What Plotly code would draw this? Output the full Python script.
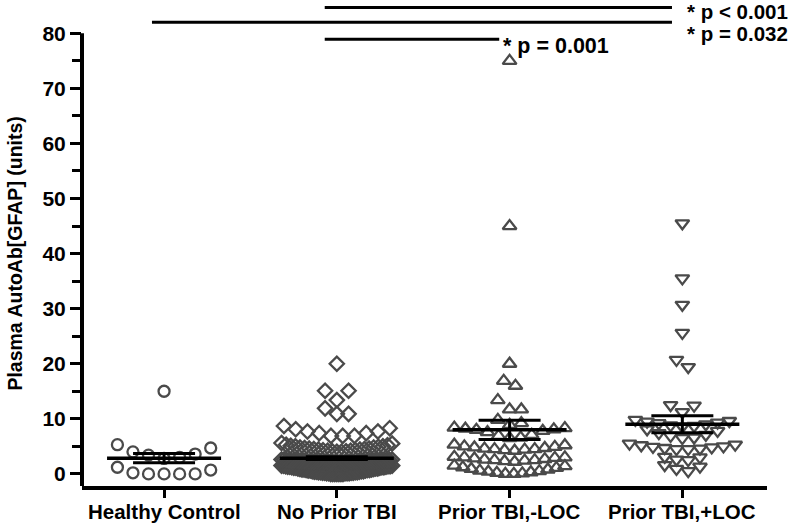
import plotly.graph_objects as go

# groups and values
categories = ["Healthy Control", "No Prior TBI", "Prior TBI,-LOC", "Prior TBI,+LOC"]

healthy = [15.0, 5.3, 4.7, 4.0, 3.6, 3.4, 3.0, 2.8, 1.2, 0.7, 0.2, 0.0, 0.0, 0.0, 0.0]

no_prior = [0.0, 0.0, 0.0, 0.0, 0.0, 0.0, 0.0, 0.1, 0.1, 0.1, 0.1, 0.1, 0.2, 0.2, 0.2, 0.2,
            0.3, 0.3, 0.3, 0.3, 0.4, 0.4, 0.4, 0.5, 0.5, 0.5, 0.6, 0.6, 0.6, 0.7, 0.7, 0.7,
            0.8, 0.8, 0.8, 0.9, 0.9, 1.0, 1.0, 1.0, 1.1, 1.1, 1.1, 1.2, 1.2, 1.2, 1.3, 1.3,
            1.3, 1.4, 1.4, 1.4, 1.5, 1.5, 1.5,
            2.0, 2.0, 2.0, 2.0, 2.0, 2.0, 2.0, 2.0, 2.1, 2.1, 2.1, 2.1, 2.1, 2.1, 2.1, 2.1,
            2.2, 2.2, 2.2, 2.2, 2.2, 2.2, 2.2, 2.2, 2.3, 2.3, 2.3, 2.3, 2.3, 2.3, 2.3,
            2.4, 2.4, 2.4, 2.4, 2.4, 2.4, 2.5, 2.5, 2.5, 2.5, 2.5, 2.6, 2.6, 2.6,
            4.0, 4.0, 4.1, 4.1, 4.2, 4.2, 4.3, 4.3, 4.4, 4.4, 4.5, 4.5, 4.6, 4.6, 4.7, 4.8,
            4.8, 4.9, 5.0, 5.0, 5.1, 5.2, 5.3, 5.5, 5.6,
            6.9, 6.9, 6.9, 7.4, 7.4, 7.7, 7.7, 8.1, 8.3, 8.7,
            10.9, 10.9, 11.9, 13.4, 15.1, 15.1, 20.0]

loc_neg = [0.0, 0.0, 0.1, 0.2, 0.3, 0.4, 0.5, 0.6, 0.8, 0.9, 1.1, 1.2, 1.4, 1.5,
           2.2, 2.3, 2.4, 2.5, 2.5, 2.6, 2.7, 2.8, 2.9, 3.0, 3.0, 3.1,
           4.2, 4.3, 4.4, 4.5, 4.5, 4.6, 4.7, 4.8, 4.9, 5.0, 5.2, 5.3,
           6.5, 6.6, 6.9, 7.1, 7.6, 7.8, 8.0, 8.1, 8.2, 8.3, 8.4,
           8.9, 9.2, 9.8, 11.7, 11.7, 13.4, 16.0, 16.9, 20.0, 45.0, 75.0]

loc_pos = [0.5, 0.9, 1.3, 1.6, 2.5, 2.6, 3.0, 3.1,
           4.5, 4.5, 4.6, 4.7, 4.8, 4.9, 5.0, 5.2, 5.3, 5.5,
           6.5, 6.6, 6.9, 7.1, 7.4, 7.8, 8.1,
           8.6, 8.7, 8.8, 9.0, 9.2, 9.3, 9.5, 9.6, 9.8,
           11.2, 12.4, 12.5, 19.4, 20.7, 25.6, 30.7, 35.5, 45.5]

means = [2.85, 2.85, 8.0, 9.0]
sems = [0.85, 0.25, 1.75, 1.55]

# significance brackets: (from group, to group, label)
sig_pairs = [(1, 3), (0, 3), (1, 2)]
sig_labels = ["* p &lt; 0.001", "* p = 0.032", "* p = 0.001"]

groups = [healthy, no_prior, loc_neg, loc_pos]
symbols = ["circle-open", "diamond-open", "triangle-up-open", "triangle-down-open"]
sizes = [11, 11, 12, 12]
steps = [0.09, 0.068, 0.068, 0.068]
bins = [2.6, 1.95, 1.95, 1.95]

GREY = "#4a4a4a"
FONT = "Liberation Sans"
Y_LO, Y_HI = -2.2, 85.5


def swarm(vals, bin_size, step, max_half=0.32):
    # prism-like scatter: similar values share a row, lowest in the middle
    order = sorted(range(len(vals)), key=lambda i: vals[i])
    rows = []
    for i in order:
        if rows and vals[i] - vals[rows[-1][0]] <= bin_size:
            rows[-1].append(i)
        else:
            rows.append([i])
    offs = [0.0] * len(vals)
    for r in rows:
        n = len(r)
        s = step if (n - 1) * step / 2 <= max_half else 2 * max_half / (n - 1)
        slots = sorted([k - (n - 1) / 2 for k in range(n)], key=lambda k: (abs(k), -k))
        for i, k in zip(r, slots):
            offs[i] = k * s
    return offs


fig = go.Figure()

for gi, vals in enumerate(groups):
    offs = swarm(vals, bins[gi], steps[gi])
    fig.add_trace(go.Scatter(
        x=[gi + o for o in offs], y=vals, mode="markers",
        marker=dict(symbol=symbols[gi], size=sizes[gi], color=GREY,
                    line=dict(color=GREY, width=2.3)),
        showlegend=False, hoverinfo="y"))

# mean line + sem bars
for gi, (m, s) in enumerate(zip(means, sems)):
    fig.add_trace(go.Scatter(x=[gi - 0.33, gi + 0.33], y=[m, m], mode="lines",
                             line=dict(color="black", width=3.5), showlegend=False))
    fig.add_trace(go.Scatter(x=[gi], y=[m], mode="markers", marker=dict(size=1, opacity=0),
                             error_y=dict(type="data", array=[s], visible=True, color="black",
                                          thickness=3, width=31),
                             showlegend=False))

# brackets
levels = [84.7, 82.0, 78.9]
for (a, b), lvl in zip(sig_pairs, levels):
    fig.add_shape(type="line", xref="x", yref="y", x0=a - 0.07, x1=b - 0.06, y0=lvl, y1=lvl,
                  line=dict(color="black", width=3))

label_pos = [(3.015, 84.0), (3.015, 80.0), (1.95, 77.7)]
label_sizes = [20.5, 20.5, 21.5]
for txt, (lx, ly), fs in zip(sig_labels, label_pos, label_sizes):
    fig.add_annotation(x=lx, y=ly, xref="x", yref="y", text=txt, showarrow=False,
                       xanchor="left", yanchor="middle",
                       font=dict(family=FONT, size=fs, color="black", weight="bold"))

# category labels under the axis
for gi, name in enumerate(categories):
    fig.add_annotation(x=gi, xref="x", y=0, yref="paper", yshift=-25, text=name,
                       showarrow=False, xanchor="center", yanchor="middle",
                       font=dict(family=FONT, size=20.5, color="black", weight="bold"))


def ypaper(v):
    return (v - Y_LO) / (Y_HI - Y_LO)


# y axis line stops at 80
fig.add_shape(type="line", xref="paper", yref="paper", x0=0, x1=0,
              y0=0, y1=ypaper(80), line=dict(color="black", width=4))

fig.add_annotation(x=0, xref="paper", xshift=-67, y=40, yref="y",
                   text="Plasma AutoAb[GFAP] (units)", textangle=-90, showarrow=False,
                   xanchor="center", yanchor="middle",
                   font=dict(family=FONT, size=19.5, color="black", weight="bold"))

fig.update_layout(
    width=792, height=526,
    margin=dict(l=82, r=25, t=3, b=40),
    paper_bgcolor="white", plot_bgcolor="white",
    font=dict(family=FONT, size=20, color="black", weight="bold"),
    xaxis=dict(range=[-0.475, 3.49], tickvals=[0, 1, 2, 3], showticklabels=False,
               showline=True, linecolor="black", linewidth=4, ticks="outside",
               ticklen=8, tickwidth=3, tickcolor="black", showgrid=False, zeroline=False,
               automargin=False),
    yaxis=dict(range=[Y_LO, Y_HI], tickvals=list(range(0, 81, 10)),
               showline=False, ticks="outside", ticklen=11, tickwidth=3, tickcolor="black",
               minor=dict(tickvals=list(range(5, 80, 10)), ticks="outside", ticklen=9,
                          tickwidth=3, tickcolor="black"),
               showgrid=False, zeroline=False, automargin=False,
               tickfont=dict(family=FONT, size=21, weight="bold")),
)

# page has a default 8px body margin; drop it so the figure fills the window
fig.write_html("out.html", config={"displayModeBar": False},
               post_script="document.body.style.margin='0';")
